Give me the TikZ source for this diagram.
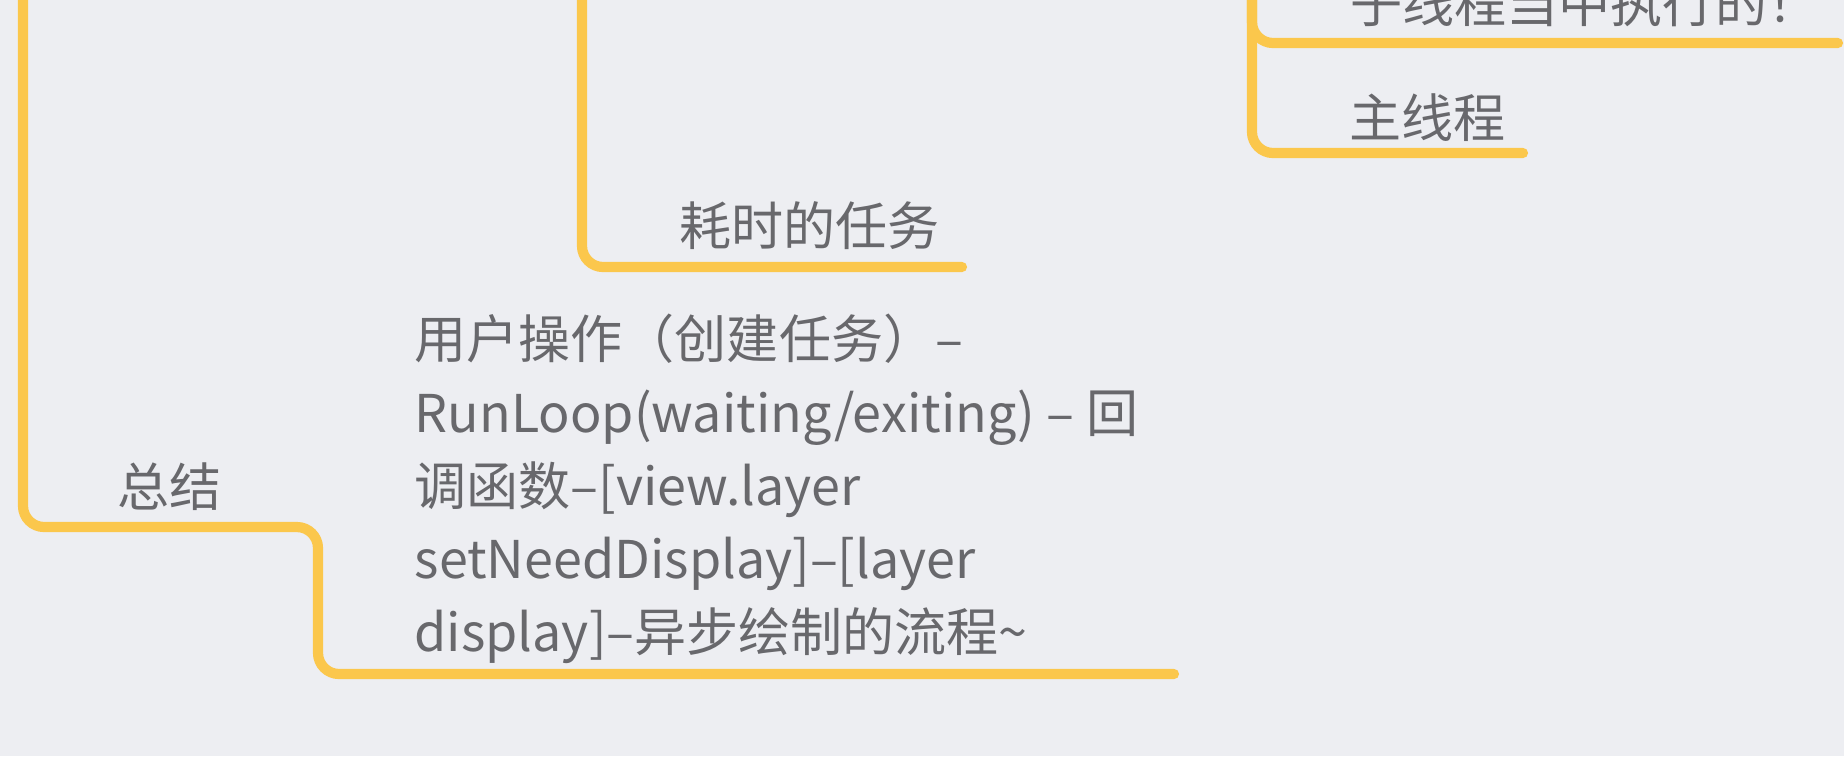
\documentclass[tikz,border=0pt]{standalone}
\usepackage{fontspec}
\setmainfont{Noto Sans CJK SC}
\definecolor{paper}{HTML}{EDEEF2}
\definecolor{branch}{HTML}{FBC74C}
\definecolor{ink}{HTML}{68686C}
\tikzset{
  topic/.style={anchor=west, inner sep=0pt, text=ink, font=\fontsize{14.8pt}{20.8pt}\selectfont},
  limb/.style={draw=branch, line width=2.9pt, rounded corners=6pt, line cap=round},
}

\begin{document}
\begin{tikzpicture}[x=0.01cm, y=-0.01cm]
	\fill[paper] (0,0) rectangle (1844,756);
	\useasboundingbox (0,0) rectangle (1844,756);
	\clip (0,0) rectangle (1844,756);
	% branch roots, above the top edge
	\coordinate (root) at (23,-30);
	\coordinate (mid) at (582,-30);
	\coordinate (sub) at (1252,-30);
	% topics:
	\node[topic] (zixian) at (1350,3) {子线程当中执行的！};
	\node[topic] (zhuxian) at (1349,118) {主线程};
	\node[topic] (haoshi) at (679,226) {耗时的任务};
	\node[topic] (zongjie) at (117,487) {总结};
	\node[topic, align=left] (liucheng) at (414,489) {用户操作（创建任务）–\\RunLoop(waiting/exiting) – 回\\调函数–[view.layer\\setNeedDisplay]–[layer\\display]–异步绘制的流程\textasciitilde};
	% underline ends
	\coordinate (zixian end) at (1838,43);
	\coordinate (zhuxian end) at (1523,153);
	\coordinate (haoshi end) at (962,267);
	\coordinate (zongjie bend) at (318,527);
	\coordinate (liucheng end) at (1174,674);
	% branches
	\draw[limb] (sub) |- (zixian end);
	\draw[limb] (sub) |- (zhuxian end);
	\draw[limb] (mid) |- (haoshi end);
	\draw[limb] (root) |- (zongjie bend) |- (liucheng end);
\end{tikzpicture}
\end{document}
